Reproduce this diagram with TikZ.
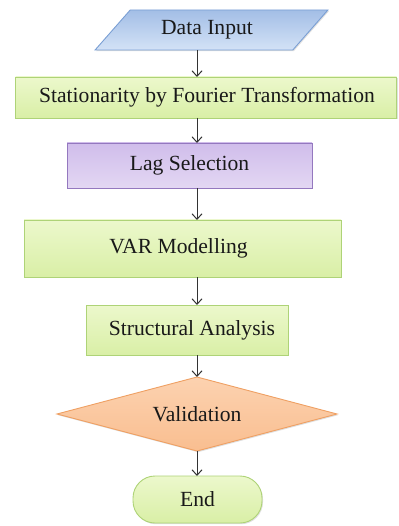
\documentclass[tikz,border=0pt]{standalone}
\usepackage{fontspec}
\setmainfont{Liberation Serif}
\usetikzlibrary{shapes.geometric,arrows.meta,shadows}
\definecolor{blueA}{HTML}{A3BEE6}
\definecolor{blueB}{HTML}{D3E2F6}
\definecolor{blueE}{HTML}{7A9FD4}
\definecolor{grnA}{HTML}{ECF8CC}
\definecolor{grnB}{HTML}{D9EFA6}
\definecolor{grnE}{HTML}{AED377}
\definecolor{purA}{HTML}{D0BDEB}
\definecolor{purB}{HTML}{E3D7F3}
\definecolor{purE}{HTML}{9478BF}
\definecolor{orA}{HTML}{FCD2B0}
\definecolor{orB}{HTML}{F9BE90}
\definecolor{orE}{HTML}{EFA063}
\definecolor{arrc}{HTML}{333333}
\tikzset{
  base/.style={font=\fontsize{21.6}{25}\selectfont, inner sep=0pt, outer sep=0pt, line width=0.9pt, text=black!90,
    drop shadow={opacity=0.25, shadow xshift=1pt, shadow yshift=-1.2pt}},
  inbox/.style={base, inner sep=2pt, trapezium, trapezium left angle=50.5, trapezium right angle=129.5, trapezium stretches=true,
    draw=blueE, top color=blueA, bottom color=blueB},
  gbox/.style={base, rectangle, draw=grnE, top color=grnA, bottom color=grnB},
  pbox/.style={base, rectangle, draw=purE, top color=purA, bottom color=purB},
  dbox/.style={base, diamond, aspect=3.8, draw=orE, top color=orA, bottom color=orB},
  ebox/.style={base, rectangle, rounded corners=22pt, draw=grnE, top color=grnA, bottom color=grnB},
  arr/.style={draw=arrc, line width=1pt, -{Straight Barb[length=5.5pt,width=10pt]}}
}
\begin{document}
\begin{tikzpicture}[x=1pt,y=1pt]
\useasboundingbox (0,0) rectangle (398,-526);
\coordinate (ax) at (197,0);
\node[inbox, minimum width=233, minimum height=40] (in) at (211.5,-30) {\hspace*{-9pt}Data Input};
\node[gbox, minimum width=381, minimum height=41] (s1) at (206,-97.5) {\hspace*{2pt}Stationarity by Fourier Transformation};
\node[pbox, minimum width=245, minimum height=45] (s2) at (189.5,-165.5) {Lag Selection};
\node[gbox, minimum width=317, minimum height=57] (s3) at (182.5,-248.5) {\hspace*{-8pt}VAR Modelling};
\node[gbox, minimum width=202, minimum height=50] (s4) at (187,-330) {\hspace*{10pt}Structural Analysis};
\node[dbox, minimum width=280, minimum height=74] (s5) at (197,-414) {Validation};
\node[ebox, minimum width=129, minimum height=47] (s6) at (197.5,-499.5) {End};
\draw[arr] (in.south -| ax) -- (s1.north -| ax);
\draw[arr] (s1.south -| ax) -- (s2.north -| ax);
\draw[arr] (s2.south -| ax) -- (s3.north -| ax);
\draw[arr] (s3.south -| ax) -- (s4.north -| ax);
\draw[arr] (s4.south -| ax) -- (s5.north);
\draw[arr] (s5.south) -- (s6.north -| ax);
\end{tikzpicture}
\end{document}
